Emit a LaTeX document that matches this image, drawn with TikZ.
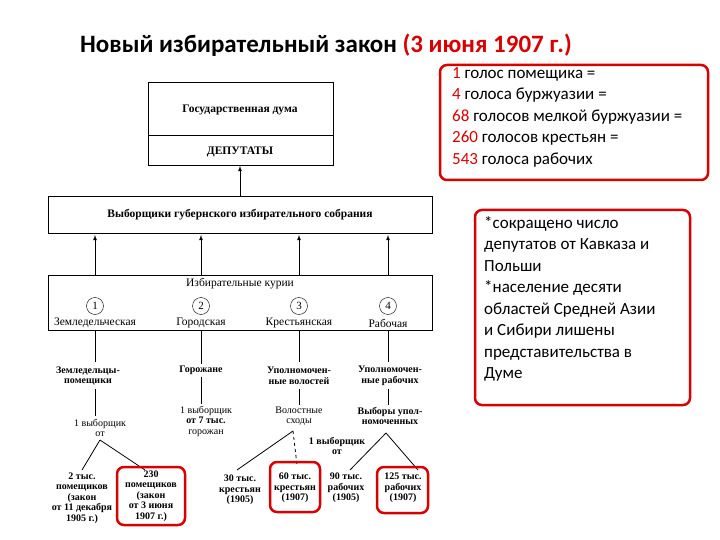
\documentclass[tikz,border=0pt]{standalone}
\usepackage{fontspec}
\setmainfont{Liberation Serif}
\newfontfamily\calfont{Carlito}
\begin{document}
\begin{tikzpicture}[x=1pt,y=-1pt,
  t/.style={font=\fontsize{10}{10.5}\selectfont,align=center,inner sep=1pt},
  tb/.style={t,font=\fontsize{10}{10.5}\selectfont\bfseries},
  T/.style={font=\fontsize{11.5}{12}\selectfont,align=center,inner sep=1pt},
  TB/.style={T,font=\fontsize{11.5}{12}\selectfont\bfseries},
  box/.style={draw,thick,inner sep=0pt},
  ln/.style={line width=0.8pt},
  ar/.style={ln,-latex},
  red/.style={draw=red!85!black,line width=2.5pt,rounded corners=7pt},
  num/.style={draw,circle,inner sep=1pt,minimum size=17pt,font=\fontsize{11}{11}\selectfont}]
\useasboundingbox (0,0) rectangle (720,540);
\node[font=\calfont\fontsize{25}{28}\selectfont\bfseries,anchor=west,inner sep=0pt] (title) at (80,45) {Новый избирательный закон \textcolor{red!85!black}{(3 июня 1907 г.)}};
% Duma
\draw[box] (148,82) rectangle (333,165);
\draw[ln] (148,135) -- (333,135);
\node[TB] (duma) at (240,110) {Государственная дума};
\node[TB] (dep) at (240,152) {ДЕПУТАТЫ};
\coordinate (dumab) at (240,166);
% electors
\draw[box] (48,196) rectangle (432,233);
\node[TB] (el) at (240,215) {Выборщики губернского избирательного собрания};
\coordinate (elt) at (240,196);
\draw[ar] (elt) -- (dumab);
% curiae
\draw[box] (48,275) rectangle (432,330);
\node[T] (kur) at (240,284) {Избирательные курии};
\foreach \x/\n/\lab in {95/1/Земледельческая,201/2/Городская,299/3/Крестьянская,388/4/Рабочая}{
  \node[num] (c\n) at (\x,306) {\n};
  \node[T] (l\n) at (\x,323) {\lab};
  \coordinate (u\n) at (\x,275);
  \coordinate (e\n) at (\x,235);
  \draw[ar] (u\n) -- (e\n);
  \coordinate (d\n) at (\x,330);
}
% column 1
\node[tb] (z1) at (88,376) {Земледельцы-\\помещики};
\draw[ln] (d1) -- (95,362);
\draw[ln] (95,389) -- (95,416);
\node[t] (v1) at (100,428) {1 выборщик\\от};
\node[tb] (p1) at (82,498) {2 тыс.\\помещиков\\(закон\\от 11 декабря\\1905 г.)};
\node[tb] (p2) at (151,496) {230\\помещиков\\(закон\\от 3 июня\\1907 г.)};
\draw[ln] (100,440) -- (82,470);
\draw[ln] (100,440) -- (145,470);
% column 2
\node[tb] (z2) at (201,370) {Горожане};
\draw[ln] (d2) -- (201,364);
\draw[ln] (201,377) -- (201,404);
\node[t] (v2) at (206,421) {1 выборщик\\\textbf{от 7 тыс.}\\горожан};
% column 3
\node[tb] (z3) at (299,376) {Уполномочен-\\ные волостей};
\draw[ln] (d3) -- (299,362);
\draw[ln] (299,389) -- (299,405);
\node[t] (s3) at (299,416) {Волостные\\сходы};
\draw[ln] (293,431) -- (237,470);
\draw[ln,dashed] (293,431) -- (297,465);
\node[tb] (v3) at (337,446) {1 выборщик\\от};
\node[tb] (k1) at (240,490) {30 тыс.\\крестьян\\(1905)};
\node[tb] (k2) at (295,488) {60 тыс.\\крестьян\\(1907)};
% column 4
\node[tb] (z4) at (390,376) {Уполномочен-\\ные рабочих};
\draw[ln] (d4) -- (388,362);
\draw[ln] (388,389) -- (388,405);
\node[tb] (s4) at (390,416) {Выборы упол-\\номоченных};
\draw[ln] (386,433) -- (350,470);
\draw[ln] (386,433) -- (418,470);
\node[tb] (r1) at (346,488) {90 тыс.\\рабочих\\(1905)};
\node[tb] (r2) at (403,488) {125 тыс.\\рабочих\\(1907)};
% red boxes
\draw[red] (117,467) rectangle (185,525);
\draw[red] (270,462) rectangle (320,512);
\draw[red] (377,467) rectangle (428,513);
\draw[red] (440,65) rectangle (708,180);
\draw[red] (475,210) rectangle (690,405);
\node[font=\calfont\fontsize{17}{21.5}\selectfont,align=left,anchor=north west,inner sep=0pt] (info) at (452,67)
 {\textcolor{red!85!black}{1} голос помещика =\\\textcolor{red!85!black}{4} голоса буржуазии =\\\textcolor{red!85!black}{68} голосов мелкой буржуазии =\\\textcolor{red!85!black}{260} голосов крестьян =\\\textcolor{red!85!black}{543} голоса рабочих};
\node[font=\calfont\fontsize{17}{21.5}\selectfont,align=left,anchor=north west,inner sep=0pt] (note) at (484,216)
 {*сокращено число\\депутатов от Кавказа и\\Польши\\*население десяти\\областей Средней Азии\\и Сибири лишены\\представительства в\\Думе};
\end{tikzpicture}
\end{document}
